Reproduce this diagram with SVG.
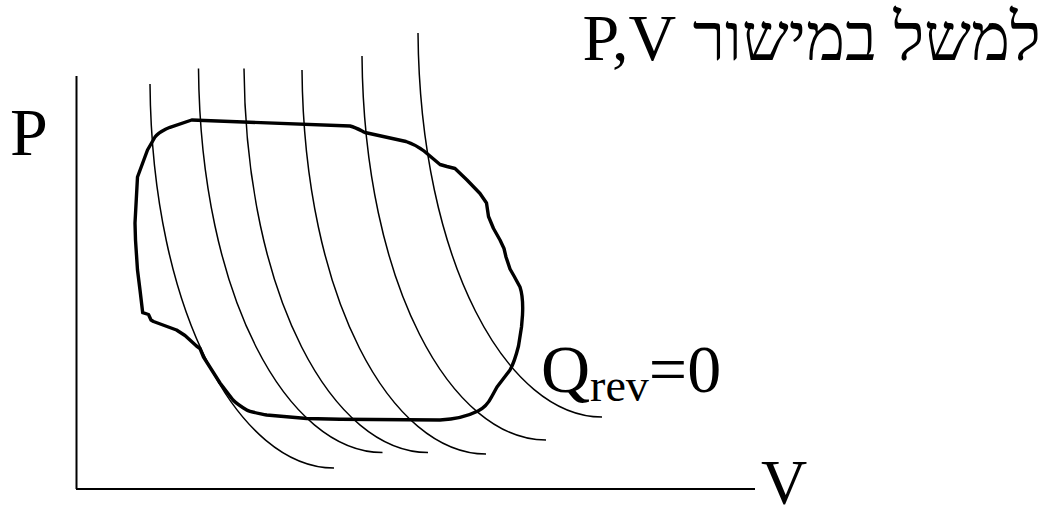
<svg xmlns="http://www.w3.org/2000/svg" xmlns:xlink="http://www.w3.org/1999/xlink" width="1055" height="519" viewBox="0 0 1055 519">
  <style>
    .txt { font-family: "Liberation Serif", "Times New Roman", "DejaVu Serif", serif; fill: #000; }
    .axis { stroke: #000; stroke-width: 2; fill: none; }
    .adiabat { stroke: #000; stroke-width: 1.5; fill: none; }
    .cycle { stroke: #000; stroke-width: 3.4; fill: none; stroke-linejoin: round; stroke-linecap: round; }
  </style>
  <defs>
    <path id="adiabatShape" d="M0,0 C2,230 90,384 184,384"/>
  </defs>
  <rect width="1055" height="519" fill="#fff"/>

  <g id="title">
    <text class="txt" x="1041" y="60" font-size="66" direction="rtl" unicode-bidi="embed" text-anchor="start">למשל במישור P,V</text>
  </g>

  <g id="axes">
    <line class="axis" x1="76.5" y1="76" x2="76.5" y2="489"/>
    <line class="axis" x1="76" y1="489" x2="755" y2="489"/>
    <text class="txt" x="10" y="155" font-size="68">P</text>
    <text class="txt" x="761" y="504" font-size="64">V</text>
  </g>

  <g id="adiabats">
    <use xlink:href="#adiabatShape" href="#adiabatShape" class="adiabat" transform="translate(150,84)"/>
    <use xlink:href="#adiabatShape" href="#adiabatShape" class="adiabat" transform="translate(198.5,68.5)"/>
    <use xlink:href="#adiabatShape" href="#adiabatShape" class="adiabat" transform="translate(244,68.5)"/>
    <use xlink:href="#adiabatShape" href="#adiabatShape" class="adiabat" transform="translate(302,70)"/>
    <use xlink:href="#adiabatShape" href="#adiabatShape" class="adiabat" transform="translate(362,56)"/>
    <use xlink:href="#adiabatShape" href="#adiabatShape" class="adiabat" transform="translate(418,33)"/>
  </g>

  <g id="cycle">
    <path class="cycle" d="M191.7,120 L350,126 C356,127.5 360,130 365,132.5 L406,141.5 C412,143.5 418,146.5 424,151 L440,164.5 L447,166.5 L455,168.5 L467,180 L480,193.5 L486.5,203 L488.5,216.5 L493.5,228.5 L500,240 L504,248.5 L506,257 L510,269 L514,276 L520,287 C523,296 523,305 522.5,315 L521.5,327 L518.5,346 C516,356 514,363 510,370 L497,387 L491.5,397 C488,404 484,408 478,411 C470,415 460,419 440,420 L340,419.3 L306.7,418.5 L266.7,415 C257,413 250,412 246.7,410 C240,406 236,403 233,400 L220,383 L203.5,357 L200,348.5 L196.5,346 L185,335.5 L176.5,330 L153.5,321.5 L151,320 L148.5,314.5 L142.7,312.7 L140,290 L137.5,270 L135.5,240 L135,223 L137.5,177 L147.5,150 L155,137 C158,133 162,131 166,129 L170,127.3 Z"/>
  </g>

  <g id="label-qrev">
    <text class="txt" x="541" y="392" font-size="68">Q<tspan font-size="46" dy="9">rev</tspan><tspan dy="-9">=0</tspan></text>
  </g>
</svg>
